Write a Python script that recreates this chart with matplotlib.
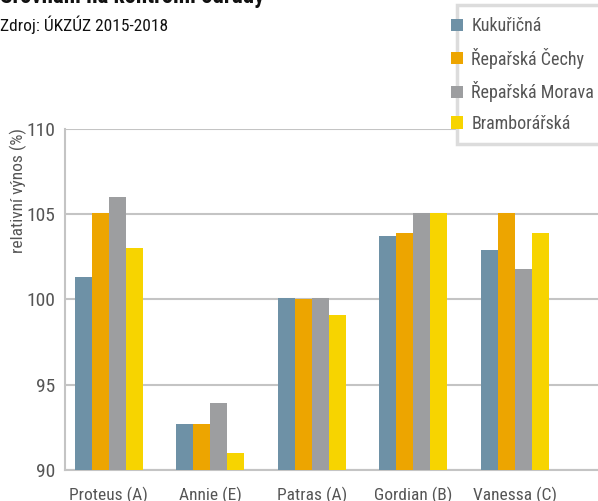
import matplotlib
matplotlib.use("Agg")
import matplotlib.pyplot as plt
import numpy as np
from matplotlib.patches import Patch, Rectangle

plt.rcParams['font.family'] = ['Roboto Condensed', 'Roboto', 'DejaVu Sans']

# data
odrudy = ['Proteus (A)', 'Annie (E)', 'Patras (A)', 'Gordian (B)', 'Vanessa (C)']
oblasti = ['Kukuřičná', 'Řepařská Čechy', 'Řepařská Morava', 'Bramborářská']
kukuricna = [101.3, 92.7, 100.1, 103.7, 102.9]
reparska_cechy = [105.1, 92.7, 100.0, 103.9, 105.1]
reparska_morava = [106.0, 93.9, 100.1, 105.1, 101.8]
bramborarska = [103.0, 91.0, 99.1, 105.1, 103.9]

barvy = ['#6e91a6', '#eda500', '#9d9ea0', '#f7d400']
grid_col = '#c4c4c4'
text_col = '#555555'

W, H = 598, 501
fig = plt.figure(figsize=(5.98, 5.01), dpi=100)
ax = fig.add_axes([0.1087, 0.0619, 0.8913, 0.6806])

x = np.arange(len(odrudy))
w = 0.168
serie = [kukuricna, reparska_cechy, reparska_morava, bramborarska]
for i, (vals, c) in enumerate(zip(serie, barvy)):
    ax.bar(x + (i - 1.5) * w, np.array(vals) - 90, width=w, bottom=90,
           color=c, zorder=3, linewidth=0)

ax.set_ylim(90, 110)
ax.set_xlim(-0.43, 4.82)
ax.set_yticks([90, 95, 100, 105, 110])
ax.set_xticks(x)
ax.set_xticklabels(odrudy)
ax.yaxis.grid(True, color=grid_col, linewidth=1.5, zorder=0)
ax.tick_params(axis='y', length=0, labelsize=14, labelcolor=text_col, pad=7)
ax.tick_params(axis='x', length=0, labelsize=12.5, labelcolor=text_col, pad=12)
for s in ['top', 'right']:
    ax.spines[s].set_visible(False)
for s in ['left', 'bottom']:
    ax.spines[s].set_color(grid_col)
    ax.spines[s].set_linewidth(1.5)

fig.text(0.03, 0.62, 'relativní výnos (%)', rotation=90, ha='center', va='center',
         fontsize=12.5, color=text_col)

# title (cut off at top) and source
fig.text(0.0, 0.985, 'Srovnání na kontrolní odrůdy', fontsize=16.5, fontweight='bold',
         ha='left', va='bottom', color='#111111')
fig.text(0.0, 1 - 25 / H, 'Zdroj: ÚKZÚZ 2015-2018', fontsize=12.5, ha='left', va='center',
         color='#111111')

# legend frame (the markers sit on its left edge)
frame = Rectangle((457 / W, 1 - 144 / H), 160 / W, 139 / H, transform=fig.transFigure,
                  facecolor='white', edgecolor='#dcdcdc', linewidth=2.5, zorder=4)
fig.patches.append(frame)

handles = [Patch(facecolor=c, edgecolor='none') for c in barvy]
leg = fig.legend(handles, oblasti, loc='upper left', bbox_to_anchor=(451 / W, 1 - 17 / H),
                 frameon=False, fontsize=13, labelcolor=text_col,
                 handlelength=0.67, handleheight=0.67, handletextpad=0.45,
                 labelspacing=0.7, borderpad=0, borderaxespad=0)
leg.set_zorder(5)

fig.savefig('out.png', dpi=100)
